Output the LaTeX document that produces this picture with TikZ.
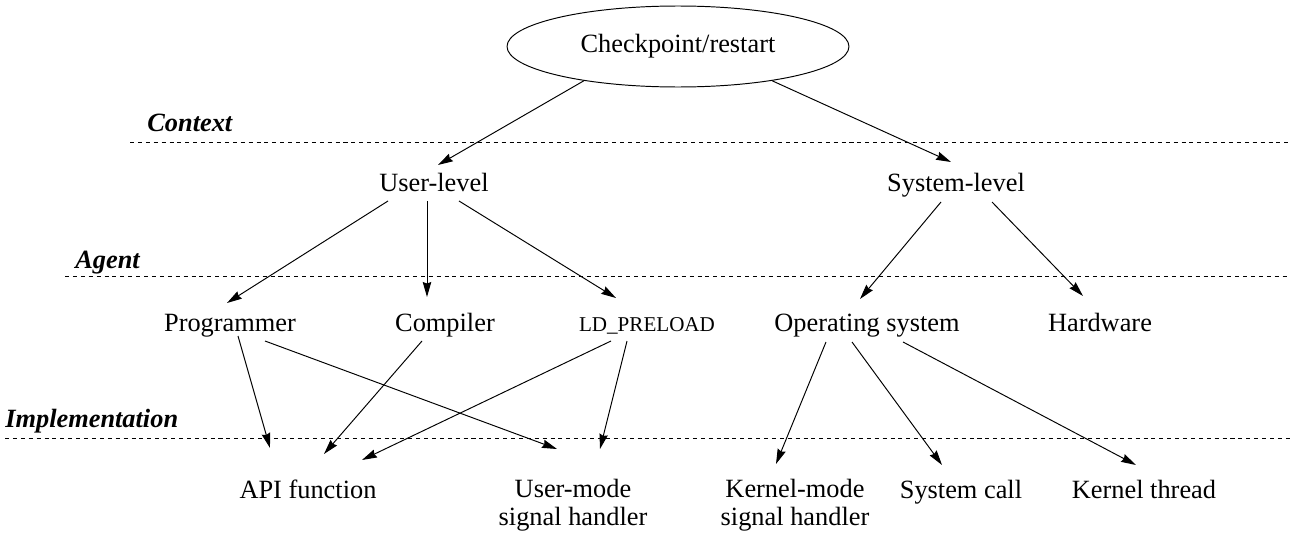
\documentclass[tikz,border=0pt]{standalone}
\usepackage{fontspec}
\setmainfont{Liberation Serif}
\usetikzlibrary{arrows.meta,shapes.geometric}

\begin{document}
\begin{tikzpicture}[x=0.02cm, y=-0.02cm, font=\fontsize{15}{15.4}\selectfont,
    every node/.style={inner sep=0pt},
    item/.style={anchor=base, align=center},
    layer/.style={anchor=base west, font=\fontsize{15}{17}\selectfont\bfseries\itshape},
    sep/.style={line width=0.55pt, dash pattern=on 2.3pt off 2.2pt},
    arr/.style={line width=0.55pt, -{Stealth[length=8.5pt, width=4.8pt, inset=0.8pt]}}]
  \useasboundingbox (0,0) rectangle (1296,534);

  % layers of the taxonomy, divided by dashed rules
  \node[layer] (ctx) at (147,131) {Context};
  \node[layer] (agt) at (75,268) {Agent};
  \node[layer] (imp) at (5,427) {Implementation};
  \draw[sep] (130,142) -- (1290,142);
  \draw[sep] (65,276) -- (1290,276);
  \draw[sep] (5,438) -- (1290,438);

  \node[draw, ellipse, line width=0.55pt, minimum width=6.84cm, minimum height=1.62cm]
    (cp) at (678,46.5) {Checkpoint/restart};

  \node[item] (usr) at (434,191) {User-level};
  \node[item] (sys) at (956,191) {System-level};

  \node[item] (prog) at (230,331) {Programmer};
  \node[item] (comp) at (445,331) {Compiler};
  \node[item, font=\fontsize{12}{14}\selectfont] (ldp) at (647,331) {LD\_PRELOAD};
  \node[item] (os) at (867,331) {Operating system};
  \node[item] (hw) at (1100,331) {Hardware};

  \node[item] (api) at (308,498) {API function};
  \node[item] (umode) at (573,525) {User-mode\\signal handler};
  \node[item] (kmode) at (795,525) {Kernel-mode\\signal handler};
  \node[item] (scall) at (961,498) {System call};
  \node[item] (kthr) at (1144,498) {Kernel thread};

  \draw[arr] (cp.200) -- ([shift={(4,-26)}]usr.base);
  \draw[arr] (cp.-20) -- ([shift={(-5,-29)}]sys.base);

  \draw[arr] ([shift={(-46,10)}]usr.base) -- ([shift={(-3,-28)}]prog.base);
  \draw[arr] ([shift={(-7,10)}]usr.base) -- ([shift={(-18,-34)}]comp.base);
  \draw[arr] ([shift={(25,10)}]usr.base) -- ([shift={(-31,-33)}]ldp.base);
  \draw[arr] ([shift={(-15,11)}]sys.base) -- ([shift={(-7,-32)}]os.base);
  \draw[arr] ([shift={(36,11)}]sys.base) -- ([shift={(-17,-35)}]hw.base);

  \draw[arr] ([shift={(8,5)}]prog.base) -- ([shift={(-38,-50)}]api.base);
  \draw[arr] ([shift={(35,10)}]prog.base) -- ([shift={(-16,-76)}]umode.base);
  \draw[arr] ([shift={(-23,10)}]comp.base) -- ([shift={(16,-44)}]api.base);
  \draw[arr] ([shift={(-36,10)}]ldp.base) -- ([shift={(54,-38)}]api.base);
  \draw[arr] ([shift={(-20,10)}]ldp.base) -- ([shift={(27,-76)}]umode.base);
  \draw[arr] ([shift={(-41,11)}]os.base) -- ([shift={(-19,-61)}]kmode.base);
  \draw[arr] ([shift={(-15,11)}]os.base) -- ([shift={(-19,-33)}]scall.base);
  \draw[arr] ([shift={(36,11)}]os.base) -- ([shift={(-8,-33)}]kthr.base);
\end{tikzpicture}
\end{document}
